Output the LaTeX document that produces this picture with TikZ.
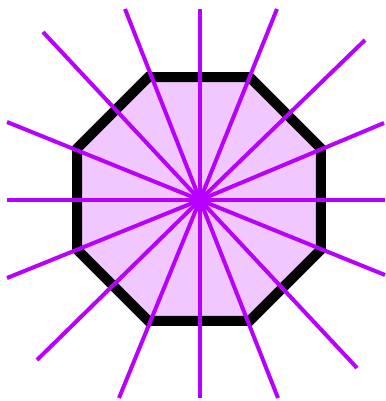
\documentclass[tikz,border=0pt]{standalone}
\usepackage{xcolor}
\definecolor{raypurple}{HTML}{B800FF}
\definecolor{octfill}{HTML}{F0C8FF}
\begin{document}
\begin{tikzpicture}[x=0.025cm, y=-0.025cm,
    octagon/.style={draw=black, line width=0.25cm, fill=octfill, line join=miter},
    ray/.style={draw=raypurple, line width=0.1cm}
  ]
  \useasboundingbox (0,0) rectangle (386,401);
  \coordinate (c) at (200,200);
  % octagon
  \begin{scope}[shift={(199,199)}]
    \draw[octagon] (22.5:132) -- (67.5:132) -- (112.5:132) -- (157.5:132) -- (202.5:132) -- (247.5:132) -- (292.5:132) -- (337.5:132) -- cycle;
  \end{scope}
  % ray ends
  \coordinate (n) at (200,9);   \coordinate (s) at (200,398);
  \coordinate (w) at (7,200);   \coordinate (e) at (385,200);
  \coordinate (nnw) at (125,9); \coordinate (nne) at (277,9);
  \coordinate (ssw) at (119,398); \coordinate (sse) at (278,398);
  \coordinate (nw) at (43,32);  \coordinate (ne) at (365,40);
  \coordinate (sw) at (37,360); \coordinate (se) at (357,368);
  \coordinate (wnw) at (7,122); \coordinate (ene) at (384,123);
  \coordinate (wsw) at (7,278); \coordinate (ese) at (385,275);
  \foreach \p in {n,s,w,e,nnw,nne,ssw,sse,nw,ne,sw,se,wnw,ene,wsw,ese}
    \draw[ray] (c) -- (\p);
\end{tikzpicture}
\end{document}
